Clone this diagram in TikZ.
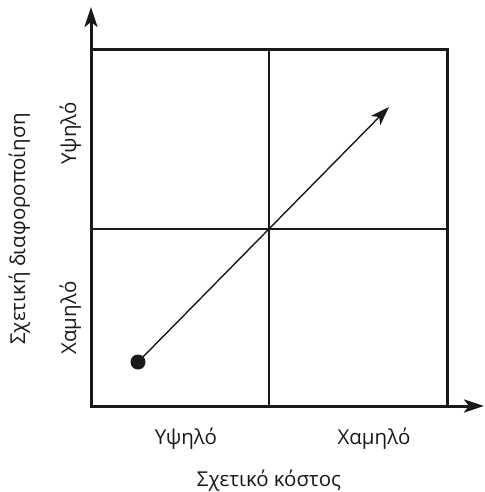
\documentclass[tikz,border=0pt]{standalone}
\usepackage{fontspec}
\setmainfont{Open Sans}
\usetikzlibrary{arrows.meta}
\begin{document}
\begin{tikzpicture}[x=1pt,y=-1pt,
  axisline/.style={line width=3pt,draw=black!90},
  thinline/.style={line width=1.4pt,draw=black!90},
  bigtip/.style={-{Stealth[length=20pt,width=13pt,inset=5pt]}},
  lbl/.style={font=\fontsize{20.5}{24}\selectfont,text=black!90,inner sep=0pt,anchor=base},
  vlbl/.style={lbl,rotate=90}]
\useasboundingbox (0,0) rectangle (484,492);
% key points
\coordinate (o) at (91,406);
\coordinate (ytop) at (91,7);
\coordinate (xend) at (484,406);
\coordinate (tr) at (447,50);
\coordinate (mt) at (269,50);
\coordinate (mb) at (269,406);
\coordinate (ml) at (91,229);
\coordinate (mr) at (447,229);
\coordinate (tip) at (389,107);
% quadrant lines
\draw[thinline] (mt) -- (mb);
\draw[thinline] (ml) -- (mr);
% box
\draw[axisline] (o) rectangle (tr);
% axes
\draw[axisline,bigtip,line cap=butt] ([yshift=-1.5pt]o) -- (ytop);
\draw[axisline,bigtip,line cap=butt] ([xshift=-1.5pt]o) -- (xend);
% dot and arrow
\node[circle,fill=black!90,minimum size=15pt,inner sep=0pt] (dot) at (138,362) {};
\draw[thinline,-{Stealth[length=19pt,width=13pt,inset=5pt]}] (dot.center) -- (tip);
% labels
\node[lbl] (xhigh) at (186,444) {Υψηλό};
\node[lbl] (xlow) at (374,444) {Χαμηλό};
\node[lbl] (xtitle) at (269,486) {Σχετικό κόστος};
\node[vlbl] (yhigh) at (76,133) {Υψηλό};
\node[vlbl] (ylow) at (76,318) {Χαμηλό};
\node[vlbl] (ytitle) at (25,229) {Σχετική διαφοροποίηση};
\end{tikzpicture}
\end{document}
